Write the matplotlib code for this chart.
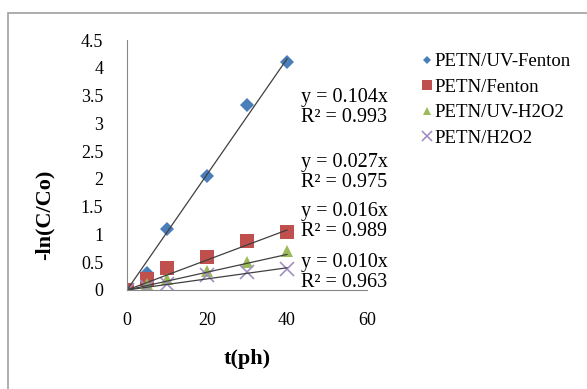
import matplotlib.pyplot as plt
from matplotlib.patches import Rectangle

# data
t = [0, 5, 10, 20, 30, 40]
uv_fenton = [0, 0.3, 1.1, 2.05, 3.33, 4.1]
fenton = [0, 0.2, 0.4, 0.6, 0.88, 1.05]
uv_h2o2 = [0, 0.1, 0.2, 0.35, 0.5, 0.7]
h2o2 = [0, 0.05, 0.1, 0.27, 0.32, 0.38]

labels = ["PETN/UV-Fenton", "PETN/Fenton", "PETN/UV-H2O2", "PETN/H2O2"]
slopes = [0.104, 0.027, 0.016, 0.010]
r2 = [0.993, 0.975, 0.989, 0.963]
eq_y = [3.29, 2.12, 1.23, 0.32]  # centre of each equation block

plt.rcParams['font.family'] = ['Liberation Serif', 'DejaVu Serif']

fig = plt.figure(figsize=(5.87, 3.89), dpi=100)
fig.patches.append(Rectangle((8/587, -0.01), 1.0, 0.976,
                             transform=fig.transFigure, fill=False,
                             edgecolor='#a0a0a0', linewidth=1.2))
ax = fig.add_axes([127/587, 1 - 290/389, 240/587, 250/389])

series = [uv_fenton, fenton, uv_h2o2, h2o2]
markers = ['D', 's', '^', 'x']
colors = ['#4a7ebb', '#c0504d', '#9bbb59', '#a18fc4']
sizes = [7, 10, 9, 10]
for ys, m, c, s, lab in zip(series, markers, colors, sizes, labels):
    ax.plot(t, ys, linestyle='none', marker=m, color=c, markersize=s,
            label=lab, markeredgewidth=1.2 if m == 'x' else 0)

for k in slopes:
    ax.plot([0, 40], [0, k * 40], color='#404040', linewidth=0.9)

for k, r, yy in zip(slopes, r2, eq_y):
    ax.text(43.5, yy, "y = %.3fx\nR² = %.3f" % (k, r), fontsize=14.5,
            linespacing=1.1, va='center', ha='left')

ax.set_xlim(0, 60)
ax.set_ylim(0, 4.5)
ax.set_xticks([0, 20, 40, 60])
ax.set_yticks([0, 0.5, 1, 1.5, 2, 2.5, 3, 3.5, 4, 4.5])
ax.set_yticklabels(['0', '0.5', '1', '1.5', '2', '2.5', '3', '3.5', '4', '4.5'])
ax.tick_params(length=0, labelsize=13)
ax.tick_params(axis='x', pad=16)
ax.tick_params(axis='y', pad=17)
for side in ['top', 'right']:
    ax.spines[side].set_visible(False)
ax.spines['left'].set_color('#888888')
ax.spines['bottom'].set_color('#888888')
ax.patch.set_alpha(0)

ax.set_xlabel('t(ph)', fontsize=16, fontweight='bold')
ax.set_ylabel('-ln(C/Co)', fontsize=16, fontweight='bold')
ax.xaxis.set_label_coords(0.5, -0.235)
ax.yaxis.set_label_coords(-0.30, 0.30)

ax.legend(loc='upper left', bbox_to_anchor=(1.2, 0.978), frameon=False,
          fontsize=13.5, handlelength=0.5, handletextpad=0.15,
          labelspacing=0.45, borderaxespad=0, markerscale=0.65)

fig.savefig('out.png', dpi=100)
